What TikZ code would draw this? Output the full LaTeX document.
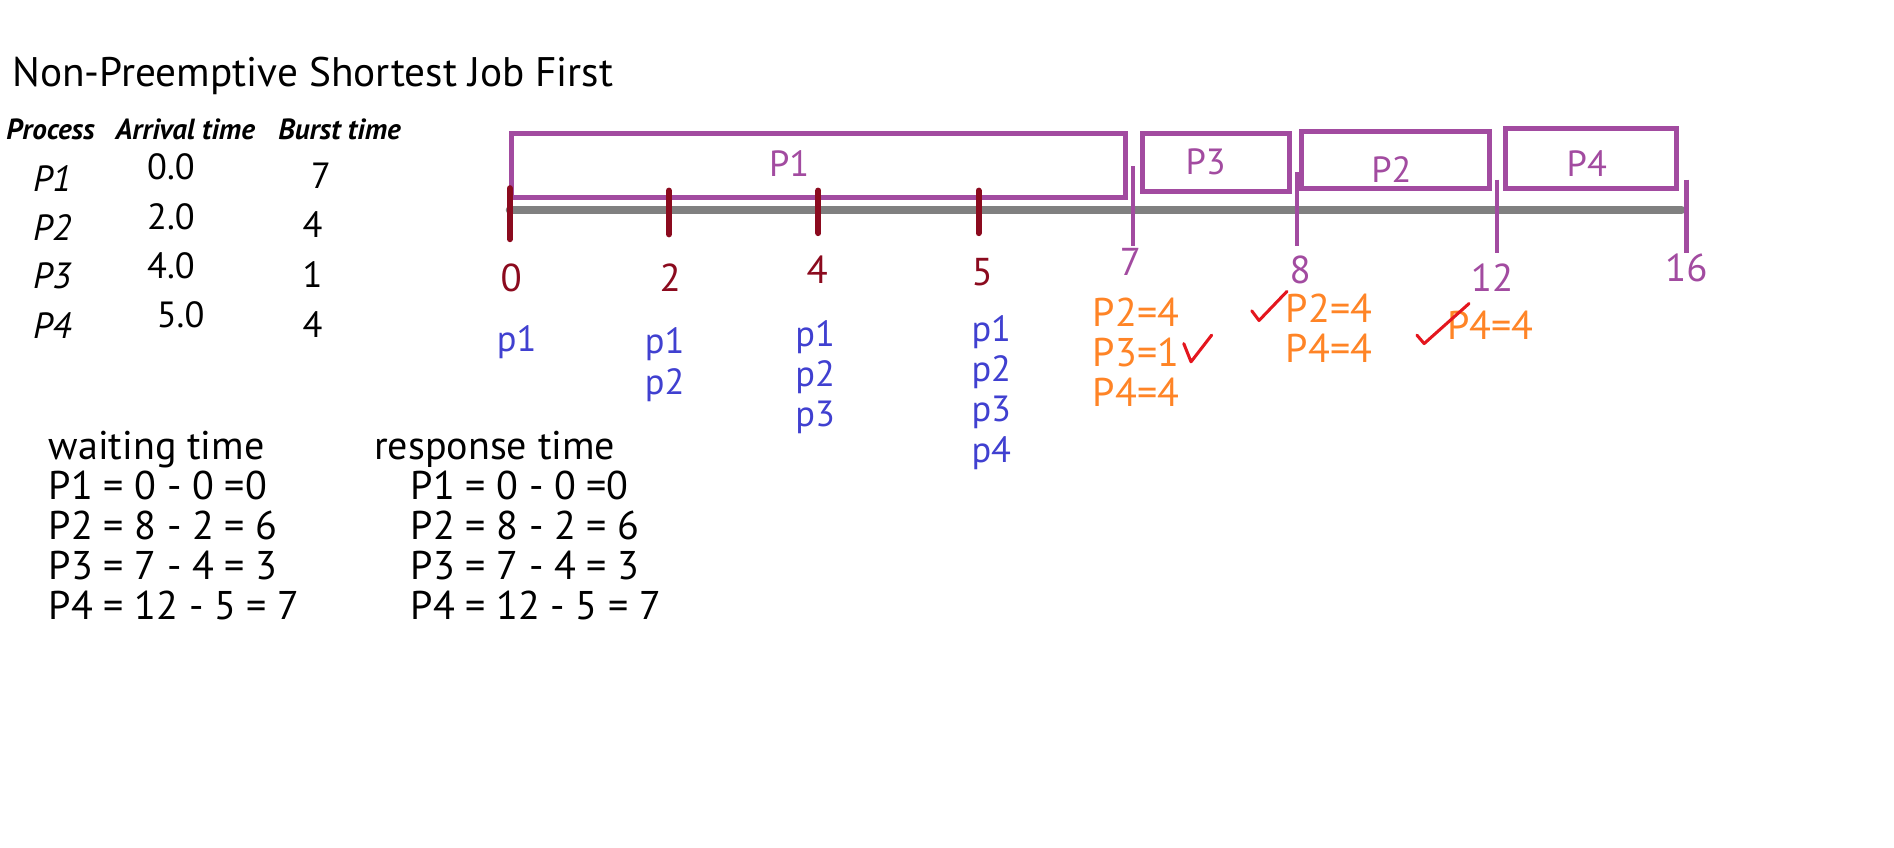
\documentclass[tikz,border=0pt]{standalone}
\usepackage{fontspec}
\setmainfont{PT Sans}
\usetikzlibrary{positioning}
\definecolor{slotpurple}{RGB}{162,75,160}
\definecolor{arrmaroon}{RGB}{139,10,30}
\definecolor{queueblue}{RGB}{64,64,208}
\definecolor{remorange}{RGB}{255,132,38}
\definecolor{checkred}{RGB}{228,22,30}
\tikzset{
  txt/.style={inner sep=0pt, font=\fontsize{30pt}{33pt}\selectfont},
  title/.style={txt, anchor=base west, font=\fontsize{34pt}{40pt}\selectfont},
  head/.style={txt, anchor=base west, font=\fontsize{24pt}{26pt}\selectfont\bfseries\itshape},
  cell/.style={txt, anchor=base west},
  slot/.style={draw=slotpurple, line width=4pt},
  slotname/.style={txt, text=slotpurple},
  axis/.style={draw=gray, line width=7pt, line cap=round},
  arrtick/.style={draw=arrmaroon, line width=5pt, line cap=round},
  endtick/.style={draw=slotpurple, line width=3.5pt},
  arrnum/.style={txt, text=arrmaroon, font=\fontsize{32pt}{33pt}\selectfont},
  endnum/.style={txt, text=slotpurple, font=\fontsize{32pt}{33pt}\selectfont},
  queue/.style={txt, text=queueblue, align=left, anchor=north west},
  remain/.style={txt, text=remorange, align=left, anchor=north west,
    font=\fontsize{33pt}{33pt}\selectfont},
  tick mark/.style={draw=checkred, line width=2.5pt, line cap=round, line join=round},
  calc/.style={txt, align=left, anchor=north west, font=\fontsize{33pt}{33pt}\selectfont}
}
\begin{document}
\begin{tikzpicture}[x=1pt, y=-1pt]
  \useasboundingbox (0,0) rectangle (1560,698);

  \node[title] (title) at (10,71) {Non-Preemptive Shortest Job First};

  % process table
  \node[head] (hproc) at (5,115) {Process};
  \node[head] (harr) at (95,115) {Arrival time};
  \node[head] (hburst) at (229,115) {Burst time};
  \node[cell] (n1) at (27,158) {\itshape P1};
  \node[cell] (a1) at (121,148) {0.0};
  \node[cell] (b1) at (256,155) {7};
  \node[cell] (n2) at (27,198) {\itshape P2};
  \node[cell] (a2) at (121,189) {2.0};
  \node[cell] (b2) at (249,196) {4};
  \node[cell] (n3) at (27,238) {\itshape P3};
  \node[cell] (a3) at (121,229) {4.0};
  \node[cell] (b3) at (249,237) {1};
  \node[cell] (n4) at (27,279) {\itshape P4};
  \node[cell] (a4) at (129,270) {5.0};
  \node[cell] (b4) at (249,278) {4};

  % gantt chart
  \draw[slot] (421,110) rectangle (927,163);
  \draw[slot] (941,110) rectangle (1062,158);
  \draw[slot] (1072,108) rectangle (1227,155);
  \draw[slot] (1240,106) rectangle (1381,155);
  \node[slotname] (s1) at (650,135) {P1};
  \node[slotname] (s3) at (993,133) {P3};
  \node[slotname] (s2) at (1146,140) {P2};
  \node[slotname] (s4) at (1307,135) {P4};

  \coordinate (t0) at (420,173);
  \coordinate (tend) at (1385,173);
  \draw[axis] (t0) -- (tend);

  \draw[arrtick] (420,155) -- (420,197);
  \draw[arrtick] (551,157) -- (551,193);
  \draw[arrtick] (674,157) -- (674,192);
  \draw[arrtick] (806,157) -- (806,192);
  \draw[endtick] (933,137) -- (933,203);
  \draw[endtick] (1068,142) -- (1068,203);
  \draw[endtick] (1233,148) -- (1233,208);
  \draw[endtick] (1389,148) -- (1389,208);

  \node[arrnum] (l0) at (421,229) {0};
  \node[arrnum] (l2) at (552,229) {2};
  \node[arrnum] (l4) at (673,222) {4};
  \node[arrnum] (l5) at (809,224) {5};
  \node[endnum] (l7) at (931,216) {7};
  \node[endnum] (l8) at (1071,222) {8};
  \node[endnum] (l12) at (1229,229) {12};
  \node[endnum] (l16) at (1389,221) {16};

  % ready queue at each arrival
  \node[queue] (q0) at (409,268) {p1};
  \node[queue] (q2) at (531,270) {p1\\p2};
  \node[queue] (q4) at (655,264) {p1\\p2\\p3};
  \node[queue] (q5) at (800,260) {p1\\p2\\p3\\p4};

  % remaining bursts at each completion
  \node[remain] (r7) at (900,245) {P2=4\\P3=1\\P4=4};
  \node[remain] (r8) at (1059,242) {P2=4\\P4=4};
  \node[remain] (r12) at (1192,256) {P4=4};

  \draw[tick mark] (975,283) -- (981,298) -- (998,276);
  \draw[tick mark] (1031,256) -- (1037,264) -- (1060,240);
  \draw[tick mark] (1167,276) -- (1173,283) -- (1210,250);

  % results
  \node[calc] (wt) at (40,355) {waiting time\\P1 = 0 - 0 =0\\P2 = 8 - 2 = 6\\P3 = 7 - 4 = 3\\P4 = 12 - 5 = 7};
  \node[calc] (rt) at (308,355) {response time\\
    \hspace*{30pt}P1 = 0 - 0 =0\\\hspace*{30pt}P2 = 8 - 2 = 6\\
    \hspace*{30pt}P3 = 7 - 4 = 3\\\hspace*{30pt}P4 = 12 - 5 = 7};
\end{tikzpicture}
\end{document}
